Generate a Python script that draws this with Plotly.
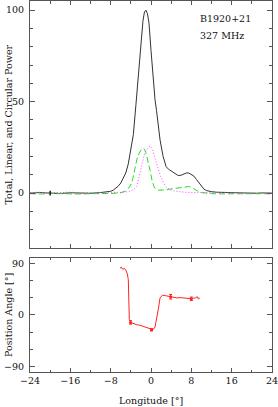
import plotly.graph_objects as go

# ---------------- data ----------------
tot_lon = [-24, -22, -20, -18, -16, -14, -12, -10, -9, -8, -7.5, -7, -6.5, -6, -5.5, -5, -4.5, -4,
           -3.5, -3, -2.5, -2, -1.6, -1.3, -1.0, -0.7, -0.4, 0, 0.4, 0.8, 1.1, 1.45, 1.8, 2.4, 3,
           3.5, 4, 4.7, 5.4, 6, 6.5, 7, 7.5, 8, 8.5, 9, 9.5, 10, 10.5, 11, 11.5, 12, 13, 14, 15,
           16, 17, 18, 19, 20, 21, 22, 23, 24]
tot_val = [0, 0.3, 0, -0.2, 0.2, 0, -0.1, 0.3, 0.5, 1.0, 1.6, 2.5, 3.8, 5.5, 8, 11, 16, 23,
           32, 48, 65, 83, 94, 99, 100, 98, 93, 78, 62, 51, 45, 37, 29, 20, 14.5,
           13, 12, 10.5, 9.6, 9.8, 10.5, 11, 11, 10.3, 9.3, 7.5, 5.5, 3.5, 2.2, 1.4, 1, 0.8, 0.5, 0.4, 0.2,
           0.3, 0, 0.2, 0, 0.1, -0.1, 0.1, 0, 0]

lin_lon = [-24, -22, -20, -18, -16, -14, -12, -10, -8, -6, -5.5, -5, -4.5, -4, -3.6, -3.2, -2.8,
           -2.4, -2, -1.6, -1.3, -1.0, -0.6, -0.2, 0.2, 0.6, 1.0, 1.5, 2.5, 3.5, 4.5, 5.5, 6.5, 7.5,
           8.2, 9, 10, 11, 12, 14, 16, 18, 20, 22, 24]
lin_val = [-0.3, -0.5, -0.2, -0.4, -0.3, -0.5, -0.3, -0.4, -0.2, 0.2, 0.5, 1.2, 2.5, 4.5, 8, 13, 18.5,
           21.5, 23.5, 24.5, 24, 22, 18, 12.5, 7, 3.5, 2, 1.6, 1.7, 2, 2.3, 2.6, 3, 3.6,
           3, 1.5, 0.3, -0.2, -0.3, -0.4, -0.3, -0.5, -0.4, -0.3, -0.4]

circ_lon = [-24, -22, -20, -18, -16, -14, -12, -10, -8, -6, -4.5, -3.8, -3.2, -2.8, -2.4, -2, -1.6,
            -1.2, -0.8, -0.4, -0.1, 0.3, 0.8, 1.2, 1.8, 2.4, 2.8, 3.4, 4, 5, 6, 7, 8, 10, 12, 14,
            16, 18, 20, 22, 24]
circ_val = [0.3, 0.5, 0.2, 0.4, 0.5, 0.2, 0.4, 0.3, 0.5, 0.4, 0.8, 1.5, 2.5, 4, 8, 13, 18,
            22, 24, 25.3, 25.5, 24, 19, 15, 10, 6, 4, 2.5, 1.6, 1, 0.6, 0.4, 0.3, 0.2, 0.3, 0.2,
            0.3, 0.2, 0.3, 0.2, 0.2]

tot_err_lon = [-20]
tot_err_val = [0]
tot_err = [1.3]

pa_lon = [-6.15, -5.9, -5.6, -5.3, -5.0, -4.7, -4.5, -4.3, -4.05, -3.5, -2.85, -2.2, -1.5, -0.8,
          -0.2, 0.1, 0.5, 0.8, 1.1, 1.45, 1.8, 2.3, 2.8, 3.4, 3.9, 4.5, 5.1, 5.8, 6.4, 7, 7.5, 8,
          8.4, 8.8, 9.2, 9.4, 9.7]
pa_val = [82, 84, 80, 82, 79, 72, 62, -8, -13, -15, -17, -18, -20, -22,
          -24, -26, -25, -21, -8, 10, 30, 35, 34, 33, 32, 31, 30, 30.5, 30, 29.5, 30, 28.5,
          29.5, 30, 32, 28, 30]

pa_err_lon = [-4.05, 0.1, 3.9, 8.0]
pa_err_val = [-13, -26, 32, 28.5]
pa_err = [3, 2, 4, 3]

x_ticks = [-24, -16, -8, 0, 8, 16, 24]
y1_ticks = [0, 50, 100]
y2_ticks = [-90, 0, 90]

# ---------------- figure ----------------
FONT = "DejaVu Serif"
FS = 9.5
AX = "#555555"
fig = go.Figure()

fig.add_trace(go.Scatter(x=tot_lon, y=tot_val, mode="lines",
                         line=dict(color="#333333", width=1), xaxis="x", yaxis="y"))
fig.add_trace(go.Scatter(x=lin_lon, y=lin_val, mode="lines",
                         line=dict(color="#22dd22", width=1, dash="6px,3px"), xaxis="x", yaxis="y"))
fig.add_trace(go.Scatter(x=circ_lon, y=circ_val, mode="lines",
                         line=dict(color="#ff44ff", width=1, dash="1px,2px"), xaxis="x", yaxis="y"))
fig.add_trace(go.Scatter(x=tot_err_lon, y=tot_err_val, mode="markers",
                         marker=dict(size=1, color="#222222"),
                         error_y=dict(type="data", array=tot_err, color="#222222", thickness=1.5, width=0),
                         xaxis="x", yaxis="y"))

fig.add_trace(go.Scatter(x=pa_lon, y=pa_val, mode="lines",
                         line=dict(color="#ff2222", width=1), xaxis="x2", yaxis="y2"))
fig.add_trace(go.Scatter(x=pa_err_lon, y=pa_err_val, mode="markers",
                         marker=dict(size=3, color="#ff2222"),
                         error_y=dict(type="data", array=pa_err, color="#ff2222", thickness=1, width=1.5),
                         xaxis="x2", yaxis="y2"))

common = dict(showline=True, linecolor=AX, linewidth=1, mirror="ticks", ticks="inside",
              tickcolor=AX, showgrid=False, zeroline=False, ticklabeloverflow="allow",
              tickfont=dict(family=FONT, size=FS, color="#111111"))

fig.update_layout(
    width=278, height=407,
    margin=dict(l=30, r=6, t=1, b=35),
    paper_bgcolor="white", plot_bgcolor="white",
    showlegend=False,
    xaxis=dict(domain=[0, 1], anchor="y", range=[-24, 24], tickvals=x_ticks, ticklen=4,
               showticklabels=False, matches="x2",
               minor=dict(dtick=4, tick0=0, ticklen=2.5, ticks="inside", tickcolor=AX),
               **common),
    yaxis=dict(domain=[0.3342, 1], anchor="x", range=[-30, 105], tickvals=y1_ticks, ticklen=5,
               minor=dict(dtick=10, tick0=0, ticklen=3, ticks="inside", tickcolor=AX),
               ticklabelstandoff=3, **common),
    xaxis2=dict(domain=[0, 1], anchor="y2", range=[-24, 24], tickvals=x_ticks, ticklen=4,
                minor=dict(dtick=4, tick0=0, ticklen=2.5, ticks="inside", tickcolor=AX),
                **common),
    yaxis2=dict(domain=[0, 0.3073], anchor="x2", range=[-100, 100], tickvals=y2_ticks, ticklen=5,
                minor=dict(dtick=30, tick0=0, ticklen=3, ticks="inside", tickcolor=AX),
                ticklabelstandoff=3, **common),
)

tfont = dict(family=FONT, size=FS, color="#111111")
fig.add_annotation(text="Total, Linear, and Circular Power", textangle=-90,
                   xref="paper", yref="paper", x=0, y=(0.3342 + 1) / 2,
                   xanchor="center", yanchor="middle", xshift=-21, showarrow=False, font=tfont)
fig.add_annotation(text="Position Angle [°]", textangle=-90,
                   xref="paper", yref="paper", x=0, y=0.3073 / 2,
                   xanchor="center", yanchor="middle", xshift=-21, showarrow=False, font=tfont)
fig.add_annotation(text="Longitude [°]", xref="paper", yref="paper", x=0.5, y=0,
                   xanchor="center", yanchor="middle", yshift=-28, showarrow=False, font=tfont)
fig.add_annotation(text="B1920+21", xref="paper", yref="paper", x=(198 - 30) / 242, y=1,
                   xanchor="left", yanchor="middle", yshift=-17, showarrow=False, font=tfont)
fig.add_annotation(text="327 MHz", xref="paper", yref="paper", x=(198 - 30) / 242, y=1,
                   xanchor="left", yanchor="middle", yshift=-34, showarrow=False, font=tfont)

fig.write_html("out.html", config={"displayModeBar": False},
               post_script="document.body.style.margin='0';document.body.style.overflow='hidden';")
